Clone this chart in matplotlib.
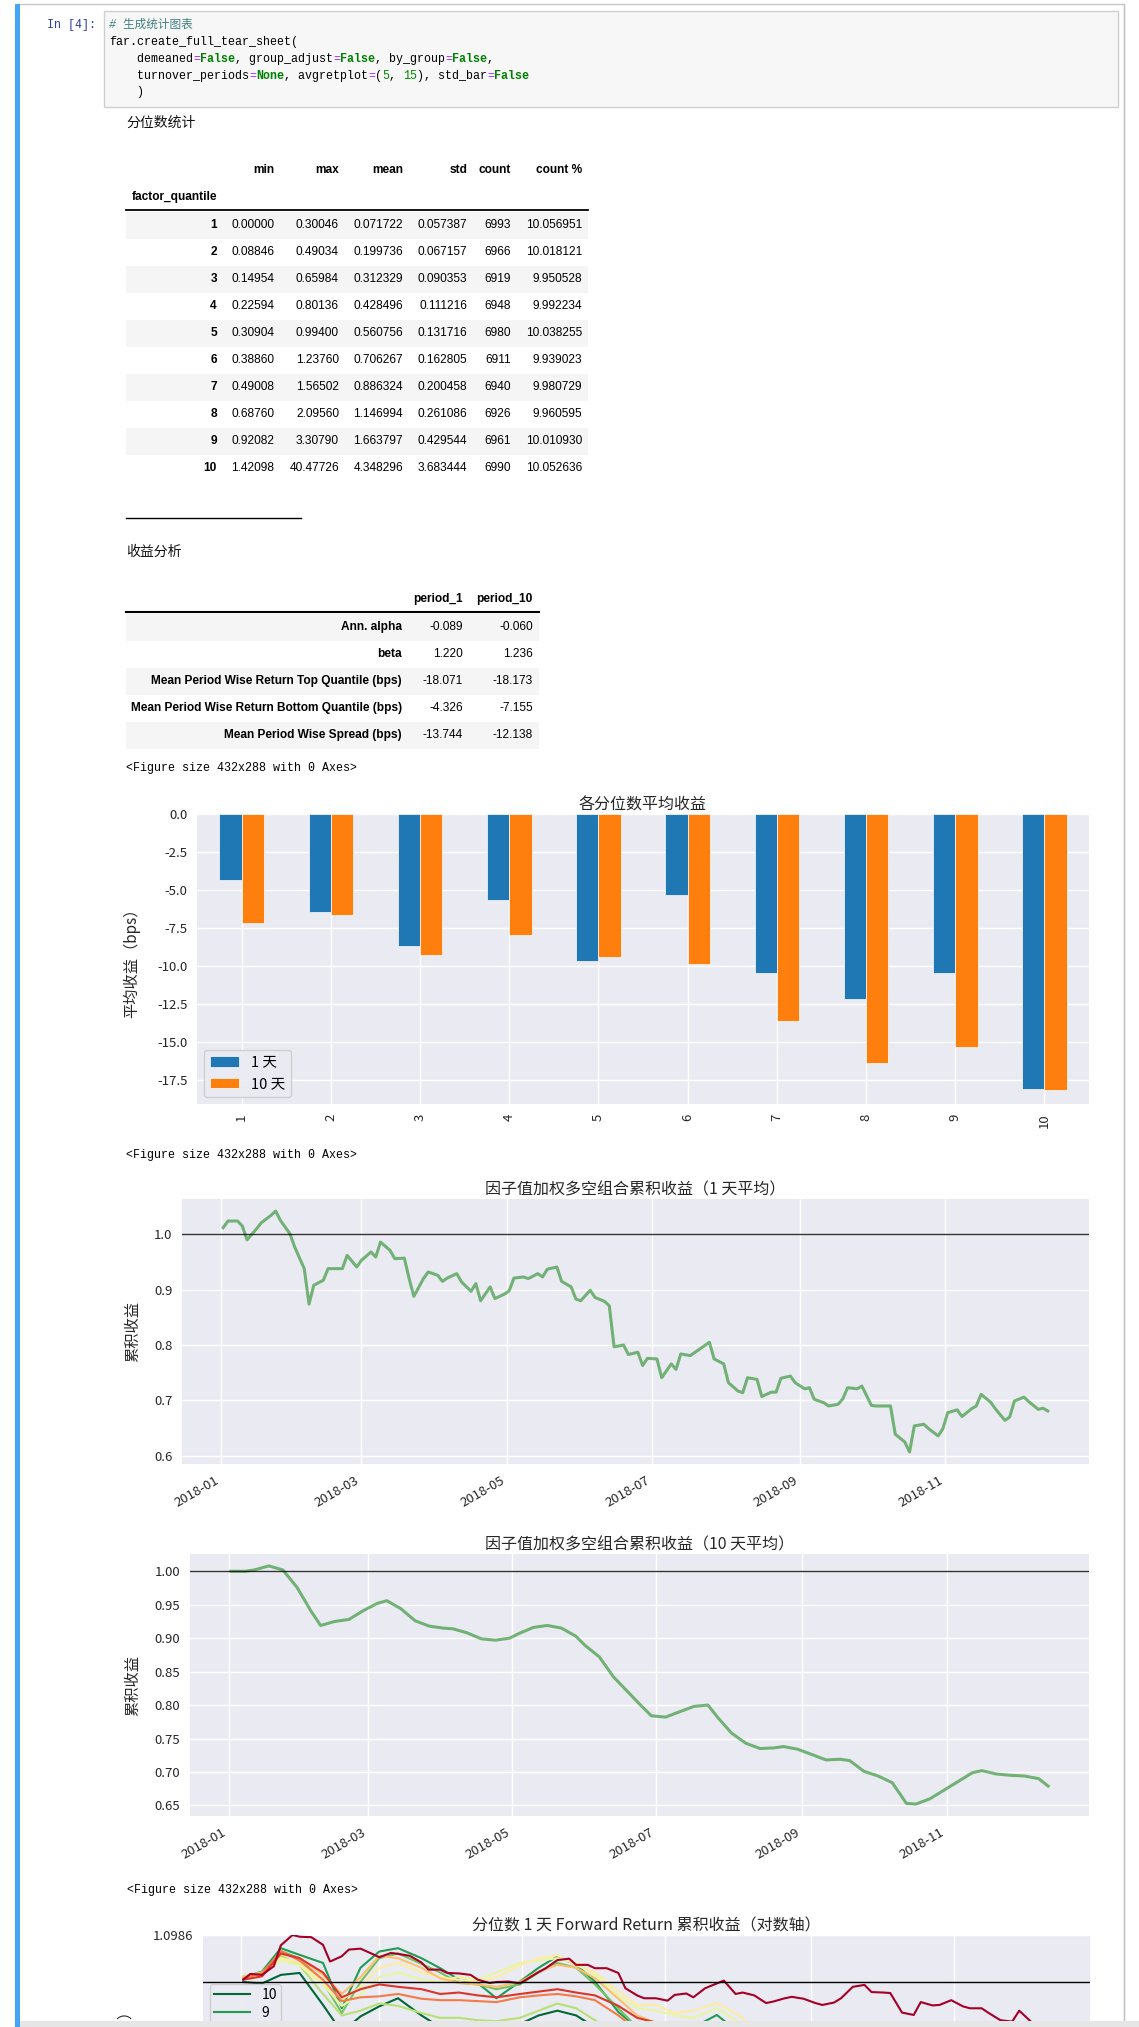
import numpy as np
import pandas as pd
import matplotlib
matplotlib.use('Agg')
import matplotlib.pyplot as plt
import matplotlib.dates as mdates
from matplotlib.patches import Rectangle
from matplotlib.lines import Line2D
from matplotlib.ticker import MultipleLocator, NullLocator

plt.rcParams['font.family'] = ['Noto Sans CJK SC', 'DejaVu Sans']
plt.rcParams['axes.unicode_minus'] = False

# ---------------- data ----------------
quantile_labels = ['1', '2', '3', '4', '5', '6', '7', '8', '9', '10']
q_min = [0.00000, 0.08846, 0.14954, 0.22594, 0.30904, 0.38860, 0.49008, 0.68760, 0.92082, 1.42098]
q_max = [0.30046, 0.49034, 0.65984, 0.80136, 0.99400, 1.23760, 1.56502, 2.09560, 3.30790, 40.47726]
q_mean = [0.071722, 0.199736, 0.312329, 0.428496, 0.560756, 0.706267, 0.886324, 1.146994, 1.663797, 4.348296]
q_std = [0.057387, 0.067157, 0.090353, 0.111216, 0.131716, 0.162805, 0.200458, 0.261086, 0.429544, 3.683444]
q_count = [6993, 6966, 6919, 6948, 6980, 6911, 6940, 6926, 6961, 6990]
q_pct = [10.056951, 10.018121, 9.950528, 9.992234, 10.038255, 9.939023, 9.980729, 9.960595, 10.010930, 10.052636]

ret_labels = ['Ann. alpha', 'beta', 'Mean Period Wise Return Top Quantile (bps)',
              'Mean Period Wise Return Bottom Quantile (bps)', 'Mean Period Wise Spread (bps)']
period_1 = [-0.089, 1.220, -18.071, -4.326, -13.744]
period_10 = [-0.060, 1.236, -18.173, -7.155, -12.138]

ret_1d = [-4.326, -6.42, -8.66, -5.65, -9.65, -5.34, -10.48, -12.18, -10.48, -18.071]
ret_10d = [-7.155, -6.66, -9.25, -7.96, -9.43, -9.89, -13.60, -16.37, -15.32, -18.173]

cum_1d = [1.012, 1.024, 1.024, 1.015, 0.990, 1.010, 1.021, 1.034, 1.042, 1.025,
          1.001, 0.977, 0.938, 0.874, 0.908, 0.917, 0.938, 0.938, 0.938, 0.962,
          0.941, 0.953, 0.968, 0.959, 0.986, 0.971, 0.956, 0.957, 0.920, 0.888,
          0.920, 0.932, 0.926, 0.915, 0.921, 0.929, 0.914, 0.897, 0.911, 0.880,
          0.905, 0.884, 0.892, 0.898, 0.921, 0.923, 0.920, 0.929, 0.923, 0.937,
          0.941, 0.915, 0.905, 0.883, 0.880, 0.899, 0.886, 0.879, 0.871, 0.797,
          0.800, 0.783, 0.787, 0.763, 0.776, 0.775, 0.741, 0.766, 0.756, 0.784,
          0.781, 0.787, 0.799, 0.805, 0.775, 0.766, 0.732, 0.717, 0.714, 0.741,
          0.738, 0.707, 0.715, 0.715, 0.740, 0.744, 0.732, 0.721, 0.723, 0.702,
          0.696, 0.690, 0.693, 0.703, 0.723, 0.721, 0.726, 0.691, 0.690, 0.690,
          0.690, 0.639, 0.625, 0.607, 0.654, 0.657, 0.649, 0.636, 0.649, 0.678,
          0.683, 0.671, 0.685, 0.690, 0.711, 0.697, 0.685, 0.664, 0.670, 0.699,
          0.706, 0.698, 0.684, 0.686, 0.681]

cum_10d = [1.000, 1.000, 1.002, 1.008, 1.002, 0.976, 0.940, 0.919, 0.925, 0.928,
           0.941, 0.952, 0.956, 0.944, 0.926, 0.918, 0.915, 0.914, 0.908, 0.899,
           0.897, 0.900, 0.907, 0.916, 0.919, 0.915, 0.903, 0.889, 0.872, 0.842,
           0.820, 0.798, 0.784, 0.782, 0.790, 0.798, 0.800, 0.782, 0.758, 0.743,
           0.735, 0.736, 0.738, 0.734, 0.726, 0.718, 0.719, 0.717, 0.701, 0.694,
           0.684, 0.653, 0.652, 0.660, 0.673, 0.686, 0.699, 0.702, 0.697, 0.695,
           0.694, 0.690, 0.679]

q1_cum = [1.005, 1.017, 1.015, 1.033, 1.077, 1.0986, 1.095, 1.094, 1.078, 1.043,
          1.054, 1.068, 1.070, 1.059, 1.052, 1.061, 1.059, 1.055, 1.041, 1.026,
          1.026, 1.019, 1.018, 1.015, 1.005, 0.998, 1.000, 1.001, 0.997, 1.006,
          1.021, 1.029, 1.046, 1.049, 1.036, 1.036, 1.029, 1.029, 1.019, 0.987,
          0.972, 0.966, 0.966, 0.961, 0.973, 0.976, 0.968, 0.987, 0.997, 1.003,
          0.975, 0.978, 0.972, 0.956, 0.959, 0.966, 0.969, 0.965, 0.956, 0.952,
          0.957, 0.966, 0.990, 0.994, 0.979, 0.978, 0.977, 0.936, 0.931, 0.958,
          0.951, 0.952, 0.962, 0.949, 0.945, 0.945, 0.935, 0.920, 0.917, 0.940,
          0.917, 0.909, 0.900]
q2_cum = [1.005, 1.012, 1.060, 1.050, 1.020, 0.968, 0.985, 0.995, 0.990, 0.985,
          0.975, 0.978, 0.972, 0.968, 0.975, 0.980, 0.985, 0.978, 0.972, 0.950,
          0.925, 0.915, 0.905, 0.900, 0.905, 0.895, 0.880, 0.870, 0.865, 0.860,
          0.850, 0.845, 0.840, 0.835, 0.825, 0.820, 0.815, 0.810, 0.812, 0.808,
          0.803, 0.800]
q3_cum = [1.008, 1.018, 1.065, 1.045, 1.005, 0.960, 0.968, 0.970, 0.975, 0.965,
          0.962, 0.962, 0.960, 0.958, 0.968, 0.972, 0.975, 0.970, 0.962, 0.930,
          0.900, 0.890, 0.880, 0.875, 0.880, 0.865, 0.850, 0.835, 0.825, 0.815,
          0.800, 0.790, 0.780, 0.770, 0.760, 0.752, 0.745, 0.738, 0.735, 0.730,
          0.725, 0.720]
q4_cum = [1.010, 1.020, 1.058, 1.050, 1.015, 0.975, 1.010, 1.055, 1.050, 1.030,
          1.008, 0.998, 0.995, 0.990, 1.000, 1.022, 1.036, 1.030, 1.008, 0.965,
          0.930, 0.915, 0.905, 0.898, 0.905, 0.890, 0.870, 0.850, 0.835, 0.820,
          0.800, 0.785, 0.770, 0.755, 0.740, 0.725, 0.710, 0.700, 0.690, 0.680,
          0.670, 0.660]
q5_cum = [1.008, 1.015, 1.050, 1.040, 1.000, 0.962, 0.990, 1.030, 1.040, 1.020,
          1.010, 1.005, 1.000, 1.010, 1.035, 1.050, 1.056, 1.035, 1.020, 0.980,
          0.952, 0.952, 0.935, 0.940, 0.956, 0.935, 0.905, 0.880, 0.860, 0.840,
          0.815, 0.795, 0.775, 0.755, 0.735, 0.715, 0.695, 0.675, 0.660, 0.645,
          0.630, 0.620]
q6_cum = [1.010, 1.018, 1.045, 1.035, 0.995, 0.950, 0.975, 1.010, 1.020, 1.005,
          1.000, 1.012, 1.005, 1.020, 1.040, 1.045, 1.050, 1.040, 1.015, 0.970,
          0.945, 0.940, 0.930, 0.925, 0.945, 0.920, 0.890, 0.865, 0.845, 0.825,
          0.800, 0.775, 0.750, 0.730, 0.710, 0.690, 0.670, 0.650, 0.630, 0.610,
          0.595, 0.580]
q7_cum = [1.012, 1.020, 1.055, 1.035, 0.975, 0.930, 0.940, 0.955, 0.950, 0.935,
          0.925, 0.925, 0.920, 0.918, 0.925, 0.940, 0.955, 0.945, 0.920, 0.890,
          0.870, 0.860, 0.850, 0.850, 0.860, 0.840, 0.815, 0.790, 0.770, 0.750,
          0.730, 0.705, 0.680, 0.660, 0.640, 0.620, 0.600, 0.580, 0.560, 0.545,
          0.530, 0.520]
q8_cum = [1.010, 1.015, 1.065, 1.050, 1.000, 0.935, 1.000, 1.050, 1.060, 1.038,
          1.020, 0.998, 0.995, 0.985, 0.995, 1.020, 1.040, 1.030, 0.995, 0.945,
          0.905, 0.890, 0.875, 0.870, 0.880, 0.855, 0.825, 0.795, 0.770, 0.745,
          0.720, 0.690, 0.660, 0.635, 0.610, 0.585, 0.560, 0.535, 0.515, 0.500,
          0.485, 0.470]
q9_cum = [1.010, 1.022, 1.071, 1.057, 1.040, 0.945, 1.030, 1.064, 1.071, 1.050,
          1.029, 1.005, 0.998, 0.966, 1.001, 1.030, 1.054, 1.036, 1.001, 0.937,
          0.905, 0.895, 0.915, 0.905, 0.931, 0.900, 0.860, 0.820, 0.790, 0.760,
          0.730, 0.700, 0.670, 0.640, 0.610, 0.580, 0.550, 0.520, 0.490, 0.460,
          0.430, 0.400]
q10_cum = [1.000, 0.997, 1.015, 1.019, 0.952, 0.895, 0.928, 0.949, 0.966, 0.930,
           0.905, 0.912, 0.905, 0.895, 0.912, 0.930, 0.940, 0.930, 0.905, 0.870,
           0.840, 0.820, 0.810, 0.800, 0.805, 0.780, 0.750, 0.720, 0.690, 0.660,
           0.630, 0.600, 0.570, 0.540, 0.510, 0.480, 0.450, 0.420, 0.390, 0.350,
           0.320, 0.300]

bdays = pd.bdate_range('2018-01-02', '2018-12-14')
dates_1d = bdays[::2][:len(cum_1d)]
dates_10d = bdays[::4][:len(cum_10d)]
dates_q1 = bdays[::3][:len(q1_cum)]
dates_q = bdays[::6][:len(q2_cum)]

# ---------------- figure helpers ----------------
W, H = 1139, 2027
fig = plt.figure(figsize=(W / 100, H / 100), dpi=100)
fig.patch.set_facecolor('white')


def X(x):
    return x / W


def Y(y):
    return 1 - y / H


def rect(x0, y0, x1, y1, fc, ec='none', lw=0, z=1):
    fig.add_artist(Rectangle((X(x0), Y(y1)), (x1 - x0) / W, (y1 - y0) / H,
                             transform=fig.transFigure, facecolor=fc,
                             edgecolor=ec, linewidth=lw, zorder=z))


def hline(x0, x1, y, color, lw, z=2):
    fig.add_artist(Line2D([X(x0), X(x1)], [Y(y), Y(y)], transform=fig.transFigure,
                          color=color, lw=lw, zorder=z))


def vline(x, y0, y1, color, lw, z=2):
    fig.add_artist(Line2D([X(x), X(x)], [Y(y0), Y(y1)], transform=fig.transFigure,
                          color=color, lw=lw, zorder=z))


def txt(x, y, s, **kw):
    kw.setdefault('va', 'center')
    fig.text(X(x), Y(y), s, **kw)


def axes_px(l, t, r, b):
    return fig.add_axes([X(l), Y(b), (r - l) / W, (b - t) / H])


def style(ax):
    ax.set_facecolor('#EAEAF2')
    ax.grid(True, color='white', lw=1.0)
    ax.set_axisbelow(True)
    for s in ax.spines.values():
        s.set_visible(False)
    ax.tick_params(length=0, labelsize=9.5, colors='#262626', pad=7)


MONO = ['Liberation Mono', 'Noto Sans CJK SC']
MSZ = 8.4
CW = 7.0

# ---------------- notebook chrome ----------------
rect(17, 4, 1124, 2040, fc='none', ec='#c6c6c6', lw=1, z=1)
rect(15, 4, 20, 2027, fc='#42A5F5', z=3)
rect(104, 11, 1118, 107, fc='#f7f7f7', ec='#cfcfcf', lw=1, z=1)
txt(47, 25, 'In [4]:', family=MONO, size=MSZ, color='#303F9F')

K, P, G, N = 'black', '#AA22FF', '#008000', '#008800'
code_lines = [
    (25, [('# 生成统计图表', '#408080', 'normal', 'italic')]),
    (42, [('far.create_full_tear_sheet(', K, 'normal', 'normal')]),
    (59, [('    demeaned', K, 'normal', 'normal'), ('=', P, 'normal', 'normal'),
          ('False', G, 'bold', 'normal'), (', group_adjust', K, 'normal', 'normal'),
          ('=', P, 'normal', 'normal'), ('False', G, 'bold', 'normal'),
          (', by_group', K, 'normal', 'normal'), ('=', P, 'normal', 'normal'),
          ('False', G, 'bold', 'normal'), (',', K, 'normal', 'normal')]),
    (76, [('    turnover_periods', K, 'normal', 'normal'), ('=', P, 'normal', 'normal'),
          ('None', G, 'bold', 'normal'), (', avgretplot', K, 'normal', 'normal'),
          ('=', P, 'normal', 'normal'), ('(', K, 'normal', 'normal'),
          ('5', N, 'normal', 'normal'), (', ', K, 'normal', 'normal'),
          ('15', N, 'normal', 'normal'), ('), std_bar', K, 'normal', 'normal'),
          ('=', P, 'normal', 'normal'), ('False', G, 'bold', 'normal')]),
    (92, [('    )', K, 'normal', 'normal')]),
]
for yy, segs in code_lines:
    pos = 0
    for s, c, w, st in segs:
        txt(109 + pos * CW, yy, s, family=MONO, size=MSZ, color=c, weight=w, style=st)
        pos += len(s)

# ---------------- table 1 ----------------
TS = 8.6
SANS = ['Liberation Sans', 'Noto Sans CJK SC']
txt(126, 123, '分位数统计', size=10, color='#111111')
hdrs = ['min', 'max', 'mean', 'std', 'count', 'count %']
col_r = [274, 339, 403, 467, 511, 582]
for h, cx in zip(hdrs, col_r):
    txt(cx, 170, h, ha='right', family=SANS, size=TS, weight='bold')
txt(132, 197, 'factor_quantile', family=SANS, size=TS, weight='bold')
hline(126, 588, 210, 'black', 1.3)
for k in range(len(quantile_labels)):
    yy = 225 + 27 * k
    if k % 2 == 0:
        rect(126, yy - 13.5, 588, yy + 13.5, fc='#f5f5f5', z=0.5)
    vals = ['%.5f' % q_min[k], '%.5f' % q_max[k], '%.6f' % q_mean[k],
            '%.6f' % q_std[k], '%d' % q_count[k], '%.6f' % q_pct[k]]
    txt(217, yy, quantile_labels[k], ha='right', family=SANS, size=TS, weight='bold')
    for v, cx in zip(vals, col_r):
        txt(cx, yy, v, ha='right', family=SANS, size=TS)

hline(126, 301, 518, 'black', 1.0)

# ---------------- table 2 ----------------
txt(126, 552, '收益分析', size=10, color='#111111')
txt(463, 599, 'period_1', ha='right', family=SANS, size=TS, weight='bold')
txt(533, 599, 'period_10', ha='right', family=SANS, size=TS, weight='bold')
hline(126, 539, 611.5, 'black', 1.5)
for k in range(len(ret_labels)):
    yy = 627 + 27 * k
    if k % 2 == 0:
        rect(126, yy - 13.5, 539, yy + 13.5, fc='#f5f5f5', z=0.5)
    txt(402, yy, ret_labels[k], ha='right', family=SANS, size=TS, weight='bold')
    txt(463, yy, '%.3f' % period_1[k], ha='right', family=SANS, size=TS)
    txt(533, yy, '%.3f' % period_10[k], ha='right', family=SANS, size=TS)

FIG_MSG = '<Figure size 432x288 with 0 Axes>'
txt(126, 768, FIG_MSG, family=MONO, size=MSZ)
txt(126, 1155, FIG_MSG, family=MONO, size=MSZ)
txt(127, 1890, FIG_MSG, family=MONO, size=MSZ)

TITLE_SZ = 11.5
YL_SZ = 11

# ---------------- bar chart ----------------
axb = axes_px(197, 814, 1089, 1104)
style(axb)
xq = np.arange(len(quantile_labels))
axb.bar(xq - 0.125, ret_1d, width=0.25, color='#1f77b4', label='1 天',
        edgecolor='white', linewidth=0.5)
axb.bar(xq + 0.125, ret_10d, width=0.25, color='#ff7f0e', label='10 天',
        edgecolor='white', linewidth=0.5)
axb.set_xlim(-0.5, 9.5)
axb.set_xticks(xq)
axb.set_xticklabels(quantile_labels, rotation=90)
axb.yaxis.set_major_locator(MultipleLocator(2.5))
axb.set_title('各分位数平均收益', fontsize=TITLE_SZ, pad=3, color='#262626')
axb.set_ylabel('平均收益（bps）', fontsize=YL_SZ, color='#262626')
axb.yaxis.set_label_coords((140 - 197) / (1089 - 197), 0.5)
axb.legend(loc='lower left', fontsize=10.5, frameon=True, facecolor='#EAEAF2',
           edgecolor='#cccccc', framealpha=0.9)

# ---------------- cumulative 1d ----------------
ax1 = axes_px(182, 1199, 1089, 1464)
style(ax1)
ax1.plot(dates_1d, cum_1d, color='forestgreen', lw=2.2, alpha=0.6)
ax1.axhline(1.0, color='black', lw=1, alpha=0.8)
ax1.xaxis.set_major_locator(mdates.MonthLocator(bymonth=[1, 3, 5, 7, 9, 11]))
ax1.xaxis.set_major_formatter(mdates.DateFormatter('%Y-%m'))
plt.setp(ax1.get_xticklabels(), rotation=30, ha='right')
ax1.yaxis.set_major_locator(MultipleLocator(0.1))
ax1.set_title('因子值加权多空组合累积收益（1 天平均）', fontsize=TITLE_SZ, pad=3, color='#262626')
ax1.set_ylabel('累积收益', fontsize=YL_SZ, color='#262626')
ax1.yaxis.set_label_coords((141 - 182) / (1089 - 182), 0.5)

# ---------------- cumulative 10d ----------------
ax2 = axes_px(190, 1554, 1089, 1816)
style(ax2)
ax2.plot(dates_10d, cum_10d, color='forestgreen', lw=2.2, alpha=0.6)
ax2.axhline(1.0, color='black', lw=1, alpha=0.8)
ax2.xaxis.set_major_locator(mdates.MonthLocator(bymonth=[1, 3, 5, 7, 9, 11]))
ax2.xaxis.set_major_formatter(mdates.DateFormatter('%Y-%m'))
plt.setp(ax2.get_xticklabels(), rotation=30, ha='right')
ax2.yaxis.set_major_locator(MultipleLocator(0.05))
ax2.set_title('因子值加权多空组合累积收益（10 天平均）', fontsize=TITLE_SZ, pad=3, color='#262626')
ax2.set_ylabel('累积收益', fontsize=YL_SZ, color='#262626')
ax2.yaxis.set_label_coords((141 - 190) / (1089 - 190), 0.5)

# ---------------- quantile cumulative ----------------
A3_T, A3_B = 1935, 2316
ax3 = axes_px(203, A3_T, 1090, A3_B)
style(ax3)
q_series = [('10', dates_q, q10_cum), ('9', dates_q, q9_cum), ('8', dates_q, q8_cum),
            ('7', dates_q, q7_cum), ('6', dates_q, q6_cum), ('5', dates_q, q5_cum),
            ('4', dates_q, q4_cum), ('3', dates_q, q3_cum), ('2', dates_q, q2_cum),
            ('1', dates_q1, q1_cum)]
cols = plt.get_cmap('RdYlGn_r')(np.linspace(0, 1, len(q_series)))
for (name, d, v), c in zip(q_series, cols):
    ax3.plot(d, v, color=c, lw=1.5, label=name)
ymin = min(min(v) for _, _, v in q_series)
ymax = max(max(v) for _, _, v in q_series)
ax3.set_yscale('symlog')
ax3.set_ylim(ymin, ymax)
yt = np.linspace(ymin, ymax, 5)
ax3.set_yticks(yt)
ax3.set_yticklabels(['%.4f' % t for t in yt])
ax3.yaxis.set_minor_locator(NullLocator())
ax3.axhline(1.0, color='black', lw=1)
ax3.xaxis.set_major_locator(mdates.MonthLocator(bymonth=[1, 3, 5, 7, 9, 11]))
ax3.xaxis.set_major_formatter(mdates.DateFormatter('%Y-%m'))
ax3.tick_params(axis='x', labelbottom=False)
ax3.set_title('分位数 1 天 Forward Return 累积收益（对数轴）', fontsize=TITLE_SZ, pad=3, color='#262626')
ax3.set_ylabel('累积收益（对数轴）', fontsize=YL_SZ, color='#262626')
ax3.yaxis.set_label_coords((134 - 203) / (1090 - 203), (A3_B - 2071) / (A3_B - A3_T))
ax3.legend(loc='upper left', bbox_to_anchor=((210 - 203) / (1090 - 203), 1 - (1984 - A3_T) / (A3_B - A3_T)),
           borderaxespad=0, fontsize=10, frameon=True, facecolor='#EAEAF2',
           edgecolor='#cccccc', framealpha=0.9, handlelength=2.6, labelspacing=0.3,
           borderpad=0.3)

# bottom scrollbar strip
rect(20, 2021, 1139, 2027, fc='#e6e6e6', z=10)
vline(1124, 4, 2021, '#c6c6c6', 1, z=1)

fig.savefig('out.png', dpi=100)
